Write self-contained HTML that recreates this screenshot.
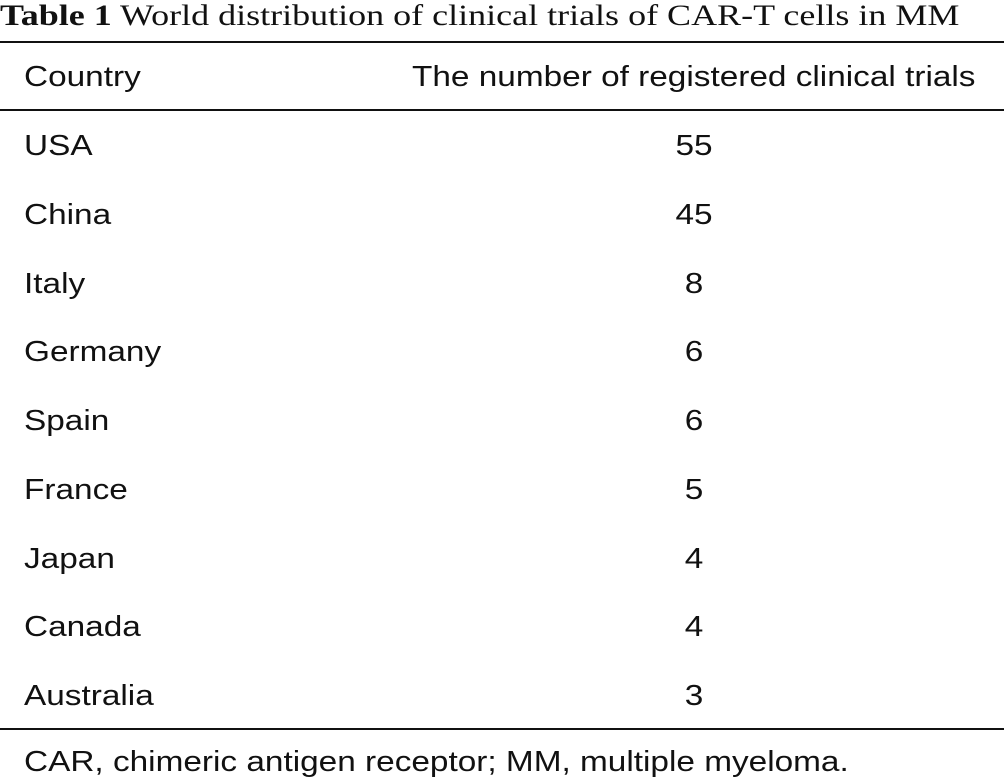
<!DOCTYPE html>
<html><head><meta charset="utf-8"><style>
body{margin:0;width:1004px;height:778px;background:#fff;position:relative;overflow:hidden;font-family:"Liberation Sans",Arial,sans-serif;color:#111}
.t{position:absolute;white-space:nowrap;line-height:1;transform-origin:0 0}
.line{position:absolute;left:0;width:1004px;height:2px;background:#111}
.s{font-size:29px;transform:scaleX(1.15)}
.num{position:absolute;left:594px;width:200px;text-align:center;font-size:29px;line-height:1;transform:scaleX(1.15)}
</style></head><body>
<div class="t" style="left:0;top:1px;font-family:'Liberation Serif',serif;font-size:30px;transform:scaleX(1.2)"><b>Table 1</b> World distribution of clinical trials of CAR-T cells in MM</div>
<div class="line" style="top:41px"></div>
<div class="t s" style="left:24px;top:63px">Country</div>
<div class="t s" style="left:412px;top:63px">The number of registered clinical trials</div>
<div class="line" style="top:109px"></div>
<div id="rows"></div>
<div class="line" style="top:728px"></div>
<div class="t s" style="left:24px;top:748px">CAR, chimeric antigen receptor; MM, multiple myeloma.</div>
<script>
const countries=["USA","China","Italy","Germany","Spain","France","Japan","Canada","Australia"];
const trials=[55,45,8,6,6,5,4,4,3];
const rows=document.getElementById('rows');
countries.forEach((c,i)=>{
  const y=132+i*68.75;
  const a=document.createElement('div');
  a.className='t s';a.style.left='24px';a.style.top=y+'px';a.textContent=c;
  
  
  rows.appendChild(a);
  const b=document.createElement('div');
  b.className='num';b.style.top=y+'px';b.textContent=trials[i];
  
  
  rows.appendChild(b);
});
</script>
</body></html>
